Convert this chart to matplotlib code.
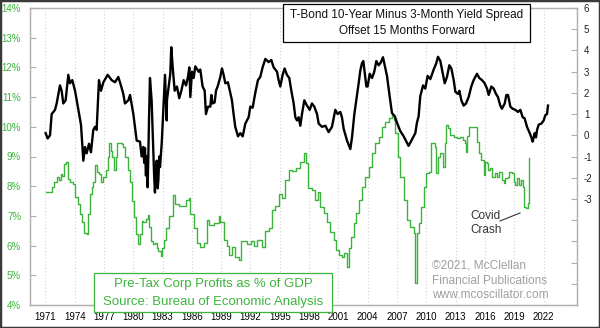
import matplotlib
matplotlib.use('Agg')
import matplotlib.pyplot as plt
from matplotlib.patches import Rectangle
from matplotlib.lines import Line2D
from matplotlib.ticker import FixedLocator, FuncFormatter

plt.rcParams['font.family'] = ['Liberation Sans', 'DejaVu Sans']
plt.rcParams['axes.unicode_minus'] = False

# T-Bond 10y minus 3m spread, offset 15 months forward (right axis)
spread_year = [
    1971.03, 1971.24, 1971.48, 1971.65, 1971.99, 1972.16, 1972.5, 1972.67, 1972.84, 1973.08,
    1973.35, 1973.52, 1973.76, 1974.04, 1974.38, 1974.65, 1974.89, 1975.06, 1975.23, 1975.47,
    1975.67, 1975.91, 1976.08, 1976.25, 1976.49, 1976.7, 1976.94, 1977.38, 1977.79, 1978.13,
    1978.47, 1978.74, 1978.98, 1979.15, 1979.5, 1979.67, 1980.01, 1980.35, 1980.69, 1980.86,
    1981.03, 1981.12, 1981.2, 1981.3, 1981.37, 1981.47, 1981.55, 1981.61, 1981.71, 1981.88,
    1982.05, 1982.13, 1982.22, 1982.32, 1982.4, 1982.5, 1982.57, 1982.66, 1982.74, 1982.91,
    1983.08, 1983.25, 1983.42,
    1983.45, 1983.79, 1983.89, 1984.03, 1984.24, 1984.47, 1984.71, 1984.92, 1985.16, 1985.4,
    1985.6, 1985.74, 1985.84, 1986.01, 1986.18, 1986.35, 1986.69, 1986.86, 1987.1, 1987.31,
    1987.44, 1987.65, 1987.89, 1987.99, 1988.12, 1988.33, 1988.47, 1988.67, 1988.91, 1989.08,
    1989.25, 1989.42, 1989.69, 1989.93, 1990.1, 1990.27, 1990.44, 1990.72, 1990.96, 1991.2,
    1991.47, 1991.81, 1991.98, 1992.22, 1992.49, 1992.76, 1993.0, 1993.24, 1993.52, 1993.86,
    1994.13, 1994.37, 1994.71, 1994.88, 1995.05, 1995.29, 1995.49, 1995.73, 1995.97, 1996.18,
    1996.42, 1996.59, 1996.76, 1996.93, 1997.1, 1997.27, 1997.51, 1997.78, 1998.06, 1998.29,
    1998.53, 1998.81, 1998.98, 1999.32, 1999.66, 2000.0, 2000.34, 2000.68, 2000.92, 2001.19,
    2001.36, 2001.54, 2001.88, 2002.22, 2002.39, 2002.63, 2002.83, 2003.07, 2003.24, 2003.41,
    2003.55, 2003.86, 2003.99, 2004.2, 2004.44, 2004.67, 2004.88, 2005.12, 2005.36, 2005.56,
    2005.97, 2006.24, 2006.48, 2006.76, 2006.99, 2007.33, 2007.68, 2008.02, 2008.18, 2008.53,
    2008.87, 2009.04, 2009.21, 2009.38, 2009.66, 2009.89, 2010.13, 2010.41, 2010.75, 2011.02,
    2011.19, 2011.43, 2011.6, 2011.88, 2012.11, 2012.35, 2012.56, 2012.8, 2012.97, 2013.24,
    2013.38, 2013.58, 2013.82, 2014.06, 2014.33, 2014.6, 2014.84, 2015.18, 2015.42, 2015.7,
    2015.97, 2016.21, 2016.38, 2016.65, 2016.89, 2017.13, 2017.33, 2017.57, 2017.74, 2018.02,
    2018.19, 2018.36, 2018.6, 2018.84, 2019.11, 2019.38, 2019.62, 2019.86, 2020.06, 2020.3,
    2020.54, 2020.75, 2020.88, 2021.09, 2021.22, 2021.33, 2021.5, 2021.77, 2022.01, 2022.18,
    2022.35, 2022.45,
]
spread_value = [
    0.1, -0.15, 0.0, 1.0, 1.2, 1.5, 2.35, 2.1, 1.5, 1.65,
    2.85, 2.45, 2.6, 2.1, 1.2, 0.5, -1.2, -0.55, -0.85, -0.4,
    -0.8, 0.25, 0.4, 0.25, 2.6, 2.1, 2.5, 2.85, 2.6, 2.5,
    2.75, 2.35, 1.95, 1.5, 1.65, 1.9, 1.0, -0.25, -0.3, -1.0,
    -0.55, -1.3, -0.6, -1.9, -1.0, -2.45, -0.8, 0.7, 2.7, 1.65,
    -0.7, -1.8, -2.7, -1.5, -1.2, -2.5, -2.1, -1.0, -1.5, -0.4,
    1.2, 2.85, 0.7,
    1.65, 2.9, 4.15, 3.25, 2.1, 2.3, 1.75, 2.1, 2.6, 2.35,
    2.75, 3.2, 1.8, 3.0, 2.7, 3.25, 3.0, 3.1, 2.3, 2.1,
    1.0, 1.35, 1.35, 1.9, 1.5, 1.55, 2.1, 2.35, 2.75, 3.15,
    2.85, 2.45, 2.5, 2.0, 1.65, 1.0, 0.4, -0.05, 0.1, -0.05,
    0.55, 0.85, 1.35, 1.3, 2.0, 2.6, 2.75, 3.2, 3.6, 3.45,
    3.55, 3.2, 3.0, 2.6, 2.3, 2.85, 3.15, 2.85, 2.7, 2.1,
    1.5, 0.85, 0.7, 0.85, 0.45, 1.0, 1.65, 1.4, 1.2, 1.5,
    1.35, 1.0, 0.55, 0.4, 0.45, 0.15, 0.4, 1.2, 1.0, 1.1,
    0.85, 0.3, -0.25, -0.65, -0.1, 1.0, 1.65, 2.45, 3.05, 3.4,
    3.5, 2.3, 2.3, 2.9, 2.7, 3.0, 3.5, 3.3, 3.45, 3.68,
    2.8, 1.85, 1.05, 0.9, 0.6, 0.2, -0.05, -0.35, -0.5, -0.2,
    0.1, 0.6, 0.9, 1.85, 2.35, 2.2, 2.8, 2.65, 3.1, 3.4,
    3.7, 3.5, 3.1, 2.45, 2.75, 3.3, 3.15, 2.6, 2.05, 1.95,
    2.1, 1.65, 1.4, 1.5, 1.8, 2.3, 2.6, 2.9, 2.7, 2.6,
    2.45, 2.2, 1.9, 2.3, 2.2, 1.95, 1.8, 1.4, 1.25, 1.5,
    1.9, 1.9, 1.35, 1.25, 1.2, 1.1, 1.2, 0.85, 0.8, 0.4,
    0.15, -0.1, -0.3, 0.1, -0.1, 0.25, 0.5, 0.55, 0.7, 0.95,
    1.0, 1.4,
]

# Pre-tax corporate profits as % of GDP (left axis)
profit_year = [
    1971.03, 1971.48, 1971.65, 1971.92, 1972.16, 1972.4, 1972.6, 1972.74, 1972.94, 1973.08,
    1973.28, 1973.52, 1973.87, 1974.04, 1974.31, 1974.55, 1974.72, 1974.99, 1975.23, 1975.4,
    1975.57, 1975.74, 1975.91, 1976.08, 1976.25, 1976.49, 1976.7, 1976.94, 1977.17, 1977.38,
    1977.52, 1977.72, 1977.86, 1978.06, 1978.2, 1978.3, 1978.54, 1978.81, 1978.98, 1979.15,
    1979.43, 1979.67, 1979.9, 1980.11, 1980.25, 1980.45, 1980.69, 1980.86, 1981.03, 1981.27,
    1981.47, 1981.61, 1981.82, 1982.05, 1982.22, 1982.4, 1982.57, 1982.84, 1982.98, 1983.18,
    1983.4, 1983.7, 1984.05, 1984.3, 1984.65, 1985.16, 1985.4, 1985.67, 1985.84, 1986.18,
    1986.53, 1986.86, 1987.2, 1987.55, 1987.72, 1988.23, 1988.74, 1988.91, 1989.25, 1989.6,
    1989.76, 1990.1, 1990.44, 1990.79, 1991.06, 1991.64, 1992.08, 1992.32, 1992.66, 1993.17,
    1993.5, 1993.86, 1994.2, 1994.54, 1994.88, 1995.22, 1995.57, 1995.9, 1996.25, 1996.66,
    1997.1, 1997.44, 1997.71, 1997.85, 1998.29, 1998.64, 1998.87, 1999.15, 1999.49, 1999.83,
    2000.17, 2000.51, 2000.78, 2001.02, 2001.36, 2001.6, 2001.88, 2002.05, 2002.29, 2002.56,
    2002.83, 2003.07, 2003.41, 2003.75, 2004.09, 2004.44, 2004.78, 2005.12, 2005.46, 2005.8,
    2006.14, 2006.48, 2006.65, 2006.82, 2007.06, 2007.34, 2007.68, 2008.02, 2008.36, 2008.7,
    2008.87, 2009.04, 2009.21, 2009.45, 2009.72, 2010.0, 2010.24, 2010.47, 2010.75, 2010.92,
    2011.02, 2011.16, 2011.43, 2011.67, 2011.88, 2012.01, 2012.22, 2012.46, 2012.8, 2013.14,
    2013.48, 2013.72, 2013.92, 2014.06, 2014.2, 2014.33, 2014.95, 2015.18, 2015.42, 2015.63,
    2015.87, 2016.04, 2016.21, 2016.31, 2016.55, 2016.72, 2016.99, 2017.23, 2017.47, 2017.74,
    2017.91, 2018.08, 2018.36, 2018.49, 2018.77, 2018.94, 2019.11, 2019.28, 2019.45, 2019.72,
    2019.86, 2019.99, 2020.2, 2020.4, 2020.54,
]
profit_pct = [
    7.8, 7.8, 7.97, 8.14, 8.3, 8.2, 8.4, 8.36, 8.75, 8.8,
    8.25, 8.14, 8.08, 7.63, 7.4, 7.06, 6.78, 6.44, 6.38, 7.06,
    7.74, 7.97, 8.14, 8.7, 8.48, 8.4, 8.14, 8.3, 8.53, 8.98,
    9.44, 9.2, 8.98, 8.53, 8.98, 9.44, 9.44, 9.41, 9.32, 8.98,
    8.53, 8.14, 7.5, 6.95, 6.38, 6.04, 6.38, 6.83, 6.78, 6.9,
    7.04, 6.61, 6.16, 6.04, 6.1, 5.93, 5.82, 5.65, 5.93, 6.2,
    6.6, 7.0, 7.7, 7.4, 7.35, 7.35, 7.55, 7.6, 7.08, 6.6,
    6.1, 5.95, 6.1, 6.85, 6.7, 6.75, 7.0, 6.8, 6.2, 6.0,
    5.7, 5.95, 5.6, 5.5, 6.15, 6.05, 6.15, 6.0, 6.2, 5.95,
    6.5, 6.6, 7.2, 7.35, 7.75, 7.6, 8.2, 8.55, 8.5, 8.6,
    8.8, 9.11, 8.77, 7.93, 7.87, 7.53, 7.81, 7.31, 7.09, 6.81,
    6.47, 6.19, 5.85, 5.68, 5.63, 5.74, 5.29, 5.91, 6.3, 6.75,
    7.09, 7.53, 7.98, 8.32, 8.66, 9.11, 9.44, 9.67, 10.0, 10.17,
    10.28, 10.4, 10.22, 9.78, 8.99, 8.32, 7.53, 6.86, 6.64, 6.41,
    4.73, 6.41, 6.75, 7.31, 7.98, 8.43, 8.49, 9.44, 9.44, 9.33,
    8.43, 8.99, 9.11, 8.66, 9.44, 10.06, 9.95, 9.73, 9.67, 9.61,
    9.67, 9.55, 9.44, 9.16, 9.7, 10.0, 10.0, 9.5, 9.11, 8.89,
    8.38, 8.83, 8.77, 8.55, 8.6, 8.32, 8.43, 8.32, 8.49, 8.21,
    8.1, 8.27, 8.32, 8.49, 8.43, 8.15, 8.04, 8.27, 8.04, 8.21,
    7.98, 7.31, 7.25, 7.42, 8.94,
]

year_ticks = list(range(1971, 2023, 3))
pct_ticks = list(range(4, 15))
spread_ticks = list(range(-8, 7))

GREEN = '#3cb43c'
GRID = '#d2d2d2'
SPINE = '#b0b0b0'

W, H = 600, 328
fig = plt.figure(figsize=(W / 100, H / 100), dpi=100)
fig.patch.set_facecolor('white')


def fx(px):
    return px / W


def fy(py):
    return 1 - py / H


ax = fig.add_axes([fx(29.5), fy(305), (577 - 29.5) / W, (305 - 8) / H])
ax.set_xlim(1969.38, 2025.42)
ax.set_ylim(4, 14)
ax.step(profit_year, profit_pct, where='post', color=GREEN, lw=1.0, zorder=2)

ax.set_xticks(year_ticks)
ax.set_xticklabels([str(y) for y in year_ticks])
ax.xaxis.grid(True, color=GRID, linestyle=(0, (1, 2)), linewidth=0.8)
ax.set_yticks(pct_ticks)
ax.set_yticklabels([f'{p}%' for p in pct_ticks])
ax.tick_params(axis='x', length=0, pad=5, labelsize=7, colors='black')
ax.tick_params(axis='y', direction='in', length=4, width=0.8, color=SPINE,
               pad=6, labelsize=7, labelcolor=GREEN)
for s in ax.spines.values():
    s.set_color(SPINE)
    s.set_linewidth(0.9)

ax2 = ax.twinx()
ax2.set_ylim(-8, 6)
ax2.plot(spread_year, spread_value, color='black', lw=1.7, zorder=3)
ax2.yaxis.set_major_locator(FixedLocator(spread_ticks))
ax2.yaxis.set_major_formatter(FuncFormatter(lambda v, p: f'{int(v)}' if v >= -3 else ''))
ax2.tick_params(axis='y', direction='in', length=4, width=0.8, color=SPINE,
                pad=5, labelsize=7, labelcolor='#222222')
for s in ax2.spines.values():
    s.set_color(SPINE)
    s.set_linewidth(0.9)

# title box (spread)
fig.patches.append(Rectangle((fx(283), fy(42)), (530 - 283) / W, (42 - 4) / H,
                             transform=fig.transFigure, facecolor='white',
                             edgecolor='black', lw=0.9, zorder=5))
fig.text(fx(406.5), fy(15), 'T-Bond 10-Year Minus 3-Month Yield Spread',
         ha='center', va='center', fontsize=8.5, color='#111111', zorder=6)
fig.text(fx(406.5), fy(31), 'Offset 15 Months Forward',
         ha='center', va='center', fontsize=8.5, color='#111111', zorder=6)

# profits box
fig.patches.append(Rectangle((fx(94), fy(312)), (332 - 94) / W, (312 - 273) / H,
                             transform=fig.transFigure, facecolor='white',
                             edgecolor=GREEN, lw=0.9, zorder=5))
fig.text(fx(213), fy(284), 'Pre-Tax Corp Profits as % of GDP',
         ha='center', va='center', fontsize=9.5, color=GREEN, zorder=6)
fig.text(fx(213), fy(302.5), 'Source: Bureau of Economic Analysis',
         ha='center', va='center', fontsize=9.5, color=GREEN, zorder=6)

# copyright
for txt, py in [('\u00a92021, McClellan', 266), ('Financial Publications', 281),
                ('www.mcoscillator.com', 295.5)]:
    fig.text(fx(432), fy(py), txt, ha='left', va='center', fontsize=8.6,
             color='#a0a0a0', zorder=6)

# covid note
fig.text(fx(470), fy(216), 'Covid', ha='left', va='center', fontsize=8.5,
         color='#333333', zorder=6)
fig.text(fx(470), fy(230), 'Crash', ha='left', va='center', fontsize=8.5,
         color='#333333', zorder=6)
fig.lines.append(Line2D([fx(500), fx(520)], [fy(221), fy(213)],
                        transform=fig.transFigure, color='#333333', lw=0.8))

# outer frame
fig.patches.append(Rectangle((0, 0), 1, 1, transform=fig.transFigure,
                             facecolor='none', edgecolor='#3a3a3a', lw=2.5,
                             zorder=10))

fig.savefig('out.png', dpi=100)
